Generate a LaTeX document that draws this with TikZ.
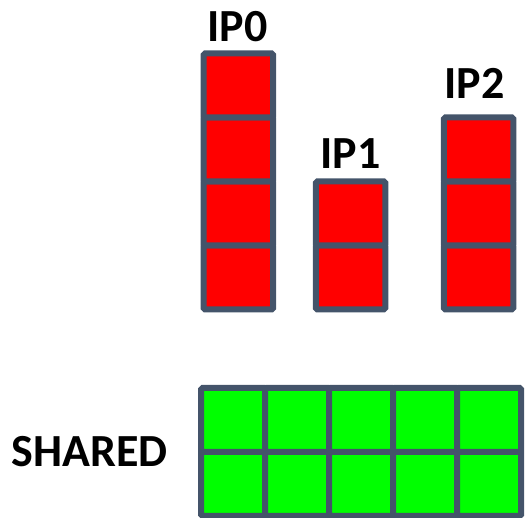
\documentclass[tikz,border=0pt]{standalone}
\usepackage{fontspec}
\setmainfont{Carlito}
\usepackage{xcolor}
\usetikzlibrary{positioning}
\definecolor{slate}{HTML}{44546A}
\definecolor{ipred}{HTML}{FF0000}
\definecolor{shgreen}{HTML}{00FF00}

\begin{document}
\begin{tikzpicture}[x=1pt, y=1pt, font=\fontsize{46pt}{46pt}\selectfont\bfseries]
    \tikzstyle{cell}=[draw=slate, line width=6pt, rectangle, rounded corners=1.5pt, outer sep=0pt, inner sep=0pt]
    \tikzstyle{ipcell}=[cell, fill=ipred, minimum width=69.5pt, minimum height=64pt]
    \tikzstyle{shcell}=[cell, fill=shgreen, minimum width=64pt, minimum height=64pt]
    \tikzstyle{lbl}=[inner sep=0pt, text=black]

    \useasboundingbox (0,0) rectangle (529,518);

    % IP0: four entries
    \node[ipcell] (ip0-1) at (238.3,240.5) {};
    \foreach \i [evaluate=\i as \j using int(\i-1)] in {2,...,4}
        \node[ipcell, above=0pt of ip0-\j] (ip0-\i) {};

    % IP1: two entries
    \node[ipcell] (ip1-1) at (350.5,240.5) {};
    \node[ipcell, above=0pt of ip1-1] (ip1-2) {};

    % IP2: three entries
    \node[ipcell] (ip2-1) at (478.5,240.5) {};
    \foreach \i [evaluate=\i as \j using int(\i-1)] in {2,3}
        \node[ipcell, above=0pt of ip2-\j] (ip2-\i) {};

    \node[lbl, above=11.5pt of ip0-4, xshift=-1pt] (l0) {IP0};
    \node[lbl, above=12.5pt of ip1-2] (l1) {IP1};
    \node[lbl, above=18.5pt of ip2-3, xshift=-4pt] (l2) {IP2};

    % shared pool, 2 x 5
    \foreach \r in {0,1}
        \foreach \c in {0,...,4}
            \node[shcell] (sh-\r-\c) at (233+64*\c, 34+64*\r) {};

    \node[lbl, left=33pt of sh-0-0.north west] (shl) {SHARED};

\end{tikzpicture}
\end{document}
